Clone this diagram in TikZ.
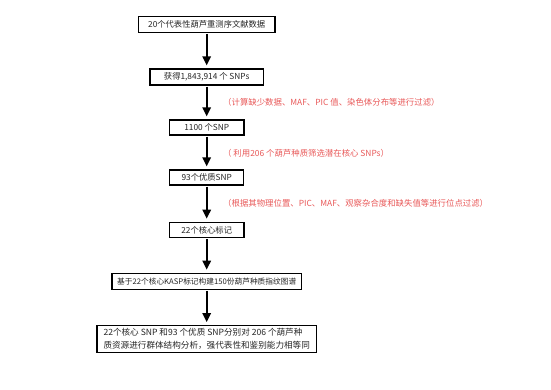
\documentclass[tikz,border=0pt]{standalone}
\usepackage{fontspec}
\setmainfont{Noto Sans CJK SC}
\usetikzlibrary{arrows.meta}
\definecolor{notered}{RGB}{232,88,88}
\tikzset{
  stepbox/.style={draw=black, line width=1.3pt, inner sep=0pt, fill=white,
    font=\fontsize{8.3}{10}\selectfont, text=black!85},
  flowarrow/.style={line width=1.6pt, -{Triangle[length=9pt,width=8.5pt]},
    shorten >=3pt, shorten <=1pt},
  notetext/.style={anchor=west, inner sep=0pt, text=notered,
    font=\fontsize{8.4}{10}\selectfont}
}
\begin{document}
\begin{tikzpicture}[x=1pt,y=-1pt]
\useasboundingbox (0,0) rectangle (551,390);
\node[stepbox, minimum width=136.7pt, minimum height=15.6pt] (b1) at (206.7,24.5) {20个代表性葫芦重测序文献数据};
\node[stepbox, minimum width=113.4pt, minimum height=16pt] (b2) at (206.7,77) {获得1,843,914 个 SNPs};
\node[stepbox, minimum width=74.4pt, minimum height=15pt] (b3) at (206.7,127.5) {1100 个SNP};
\node[stepbox, minimum width=74pt, minimum height=15pt] (b4) at (206.7,177.5) {93个优质SNP};
\node[stepbox, minimum width=74.4pt, minimum height=15.4pt] (b5) at (206.7,230) {22个核心标记};
\node[stepbox, minimum width=189.3pt, minimum height=16pt,
  font=\fontsize{7.7}{10}\selectfont] (b6) at (206.7,281.3) {基于22个核心KASP标记构建150份葫芦种质指纹图谱};
\node[stepbox, minimum width=219.3pt, minimum height=26.6pt, align=left,
  font=\fontsize{8.6}{13.3}\selectfont] (b7) at (206.7,339)
  {22个核心 SNP 和93 个优质 SNP分别对 206 个葫芦种\\质资源进行群体结构分析，强代表性和鉴别能力相等同};
\draw[flowarrow] (b1) -- (b2);
\draw[flowarrow] (b2) -- (b3);
\draw[flowarrow] (b3) -- (b4);
\draw[flowarrow] (b4) -- (b5);
\draw[flowarrow] (b5) -- (b6);
\draw[flowarrow] (b6) -- (b7);
\node[notetext] (n1) at (223,102.7) {（计算缺少数据、MAF、PIC 值、染色体分布等进行过滤）};
\node[notetext] (n2) at (223,153.3) {（ 利用206 个葫芦种质筛选潜在核心 SNPs）};
\node[notetext] (n3) at (223,203.3) {（根据其物理位置、PIC、MAF、观察杂合度和缺失值等进行位点过滤）};
\end{tikzpicture}
\end{document}
